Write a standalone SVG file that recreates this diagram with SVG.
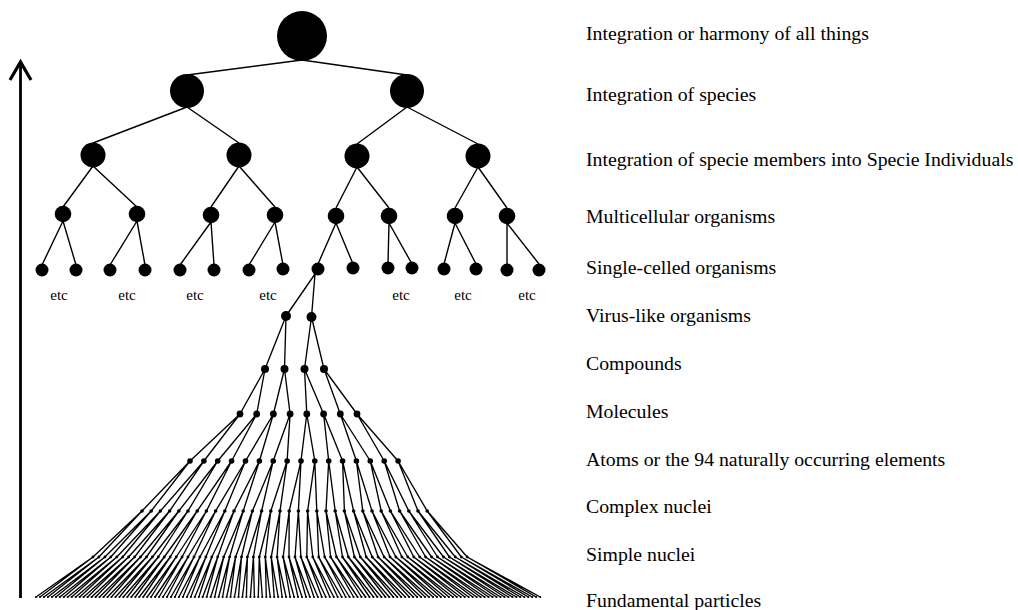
<svg xmlns="http://www.w3.org/2000/svg" width="1018" height="610" viewBox="0 0 1018 610">
<style>
.e{fill:none;stroke:#000;stroke-width:1.4;stroke-linejoin:round}
.f{fill:none;stroke:#000;stroke-width:1.35;stroke-linejoin:round}
.lbl{font-family:"Liberation Serif","Times New Roman",serif;font-size:19.8px;fill:#000}
.etc{font-family:"Liberation Serif","Times New Roman",serif;font-size:15px;fill:#000;text-anchor:middle}
circle{fill:#000}
</style>
<rect width="1018" height="610" fill="#fff"/>
<g id="axis" fill="none" stroke="#000" stroke-width="2.8">
<line x1="20.5" y1="598" x2="20.5" y2="64"/>
<polyline points="10,80 20.5,62 31,80" stroke-width="3.2" stroke-linejoin="miter"/>
</g>
<g id="connectors">
<path class="e" d="M187 75L302 60L407 75M93 143L187 107L239 143M357 144L407 107L478 144M63 207L93 166L137 207M211 207L239 166L275 207M336 208L357 167L389 208M455 208L478 167L507 208M42 265L63 221L76 265M110 265L137 221L145 265M180 265L211 222L214 265M249 265L275 222L283 265M318 264L336 223L353 264M388 264L389 223L412 264M444 264L455 223L476 264M507 264L507 223L539 264"/>
<path class="f" d="M286 316L315 274L311.5 317M265 369L286 316L284.5 369M304.5 369L311.5 317L324 369M240 414L265 369L256.7 414M273.4 414L284.5 369L290.1 414M306.8 414L304.5 369L323.6 414M340.3 414L324 369L357 414M190 461L240 414L203.9 461M217.7 461L256.7 414L231.6 461M245.5 461L273.4 414L259.4 461M273.2 461L290.1 414L287.1 461M301 461L306.8 414L314.8 461M328.7 461L323.6 414L342.6 461M356.4 461L340.3 414L370.3 461M384.2 461L357 414L398.1 461"/>
<path class="f" d="M142 511L190 461L151.2 511M160.4 511L203.9 461L169.6 511M178.8 511L217.7 461L188 511M197.2 511L231.6 461L206.4 511M215.6 511L245.5 461L224.8 511M234 511L259.4 461L243.2 511M252.4 511L273.2 461L261.6 511M270.8 511L287.1 461L280 511M289.2 511L301 461L298.4 511M307.6 511L314.8 461L316.8 511M326 511L328.7 461L335.2 511M344.4 511L342.6 461L353.6 511M362.8 511L356.4 461L372 511M381.2 511L370.3 461L390.4 511M399.6 511L384.2 461L408.8 511M418 511L398.1 461L427.2 511"/>
<path class="f" d="M93 557L142 511L98.9 557M104.9 557L151.2 511L110.8 557M116.8 557L160.4 511L122.7 557M128.6 557L169.6 511L134.6 557M140.5 557L178.8 511L146.5 557M152.4 557L188 511L158.3 557M164.3 557L197.2 511L170.2 557M176.2 557L206.4 511L182.1 557M188 557L215.6 511L194 557M199.9 557L224.8 511L205.9 557M211.8 557L234 511L217.7 557M223.7 557L243.2 511L229.6 557M235.6 557L252.4 511L241.5 557M247.4 557L261.6 511L253.4 557M259.3 557L270.8 511L265.3 557M271.2 557L280 511L277.1 557M283.1 557L289.2 511L289 557M295 557L298.4 511L300.9 557M306.8 557L307.6 511L312.8 557M318.7 557L316.8 511L324.7 557M330.6 557L326 511L336.5 557M342.5 557L335.2 511L348.4 557M354.4 557L344.4 511L360.3 557M366.2 557L353.6 511L372.2 557M378.1 557L362.8 511L384.1 557M390 557L372 511L395.9 557M401.9 557L381.2 511L407.8 557M413.8 557L390.4 511L419.7 557M425.6 557L399.6 511L431.6 557M437.5 557L408.8 511L443.5 557M449.4 557L418 511L455.3 557M461.3 557L427.2 511L467.2 557"/>
<path class="f" d="M36 597L93 557L40 597M43.9 597L98.9 557L47.9 597M51.9 597L104.9 557L55.9 597M59.8 597L110.8 557L63.8 597M67.8 597L116.8 557L71.7 597M75.7 597L122.7 557L79.7 597M83.6 597L128.6 557L87.6 597M91.6 597L134.6 557L95.6 597M99.5 597L140.5 557L103.5 597M107.5 597L146.5 557L111.4 597M115.4 597L152.4 557L119.4 597M123.3 597L158.3 557L127.3 597M131.3 597L164.3 557L135.3 597M139.2 597L170.2 557L143.2 597M147.2 597L176.2 557L151.1 597M155.1 597L182.1 557L159.1 597M163 597L188 557L167 597M171 597L194 557L174.9 597M178.9 597L199.9 557L182.9 597M186.9 597L205.9 557L190.8 597M194.8 597L211.8 557L198.8 597M202.7 597L217.7 557L206.7 597M210.7 597L223.7 557L214.7 597M218.6 597L229.6 557L222.6 597M226.6 597L235.6 557L230.5 597M234.5 597L241.5 557L238.5 597M242.4 597L247.4 557L246.4 597M250.4 597L253.4 557L254.4 597M258.3 597L259.3 557L262.3 597M266.3 597L265.3 557L270.2 597M274.2 597L271.2 557L278.2 597M282.1 597L277.1 557L286.1 597M290.1 597L283.1 557L294.1 597M298 597L289 557L302 597M306 597L295 557L309.9 597M313.9 597L300.9 557L317.9 597M321.8 597L306.8 557L325.8 597M329.8 597L312.8 557L333.8 597M337.7 597L318.7 557L341.7 597M345.7 597L324.7 557L349.6 597M353.6 597L330.6 557L357.6 597M361.5 597L336.5 557L365.5 597M369.5 597L342.5 557L373.5 597M377.4 597L348.4 557L381.4 597M385.4 597L354.4 557L389.3 597M393.3 597L360.3 557L397.3 597M401.2 597L366.2 557L405.2 597M409.2 597L372.2 557L413.2 597M417.1 597L378.1 557L421.1 597M425.1 597L384.1 557L429 597M433 597L390 557L437 597M440.9 597L395.9 557L444.9 597M448.9 597L401.9 557L452.9 597M456.8 597L407.8 557L460.8 597M464.8 597L413.8 557L468.7 597M472.7 597L419.7 557L476.7 597M480.6 597L425.6 557L484.6 597M488.6 597L431.6 557L492.6 597M496.5 597L437.5 557L500.5 597M504.5 597L443.5 557L508.4 597M512.4 597L449.4 557L516.4 597M520.3 597L455.3 557L524.3 597M528.3 597L461.3 557L532.3 597M536.2 597L467.2 557L540.2 597"/>
</g>
<g id="nodes-upper">
<g id="n-root"><circle cx="302" cy="36" r="25"/></g>
<g id="n2-0"><circle cx="187" cy="91" r="17"/></g>
<g id="n2-1"><circle cx="407" cy="91" r="17"/></g>
<g id="n3-0"><circle cx="93" cy="155" r="12.5"/></g>
<g id="n3-1"><circle cx="239" cy="155" r="12.5"/></g>
<g id="n3-2"><circle cx="357" cy="156" r="12.5"/></g>
<g id="n3-3"><circle cx="478" cy="156" r="12.5"/></g>
<g id="n4-0"><circle cx="63" cy="214" r="8.3"/></g>
<g id="n4-1"><circle cx="137" cy="214" r="8.3"/></g>
<g id="n4-2"><circle cx="211" cy="215" r="8.3"/></g>
<g id="n4-3"><circle cx="275" cy="215" r="8.3"/></g>
<g id="n4-4"><circle cx="336" cy="216" r="8.3"/></g>
<g id="n4-5"><circle cx="389" cy="216" r="8.3"/></g>
<g id="n4-6"><circle cx="455" cy="216" r="8.3"/></g>
<g id="n4-7"><circle cx="507" cy="216" r="8.3"/></g>
<g id="n5-0"><circle cx="42" cy="270" r="6.5"/></g>
<g id="n5-1"><circle cx="76" cy="270" r="6.5"/></g>
<g id="n5-2"><circle cx="110" cy="270" r="6.5"/></g>
<g id="n5-3"><circle cx="145" cy="270" r="6.5"/></g>
<g id="n5-4"><circle cx="180" cy="270" r="6.5"/></g>
<g id="n5-5"><circle cx="214" cy="270" r="6.5"/></g>
<g id="n5-6"><circle cx="249" cy="270" r="6.5"/></g>
<g id="n5-7"><circle cx="283" cy="269" r="6.5"/></g>
<g id="n5-8"><circle cx="318" cy="269" r="6.5"/></g>
<g id="n5-9"><circle cx="353" cy="268" r="6.5"/></g>
<g id="n5-10"><circle cx="388" cy="268" r="6.5"/></g>
<g id="n5-11"><circle cx="412" cy="268" r="6.5"/></g>
<g id="n5-12"><circle cx="444" cy="269" r="6.5"/></g>
<g id="n5-13"><circle cx="476" cy="269" r="6.5"/></g>
<g id="n5-14"><circle cx="507" cy="270" r="6.5"/></g>
<g id="n5-15"><circle cx="539" cy="270" r="6.5"/></g>
</g>
<g id="nodes-lower">
<g id="n6-0"><circle cx="286" cy="316" r="5"/></g>
<g id="n6-1"><circle cx="311.5" cy="317" r="5"/></g>
<g id="n7-0"><circle cx="265" cy="369" r="4"/></g>
<g id="n7-1"><circle cx="284.5" cy="369" r="4"/></g>
<g id="n7-2"><circle cx="304.5" cy="369" r="4"/></g>
<g id="n7-3"><circle cx="324" cy="369" r="4"/></g>
<g id="n8-0"><circle cx="240" cy="414" r="3.4"/></g>
<g id="n8-1"><circle cx="256.7" cy="414" r="3.4"/></g>
<g id="n8-2"><circle cx="273.4" cy="414" r="3.4"/></g>
<g id="n8-3"><circle cx="290.1" cy="414" r="3.4"/></g>
<g id="n8-4"><circle cx="306.8" cy="414" r="3.4"/></g>
<g id="n8-5"><circle cx="323.6" cy="414" r="3.4"/></g>
<g id="n8-6"><circle cx="340.3" cy="414" r="3.4"/></g>
<g id="n8-7"><circle cx="357" cy="414" r="3.4"/></g>
<g id="n9-0"><circle cx="190" cy="461" r="2.8"/></g>
<g id="n9-1"><circle cx="203.9" cy="461" r="2.8"/></g>
<g id="n9-2"><circle cx="217.7" cy="461" r="2.8"/></g>
<g id="n9-3"><circle cx="231.6" cy="461" r="2.8"/></g>
<g id="n9-4"><circle cx="245.5" cy="461" r="2.8"/></g>
<g id="n9-5"><circle cx="259.4" cy="461" r="2.8"/></g>
<g id="n9-6"><circle cx="273.2" cy="461" r="2.8"/></g>
<g id="n9-7"><circle cx="287.1" cy="461" r="2.8"/></g>
<g id="n9-8"><circle cx="301" cy="461" r="2.8"/></g>
<g id="n9-9"><circle cx="314.8" cy="461" r="2.8"/></g>
<g id="n9-10"><circle cx="328.7" cy="461" r="2.8"/></g>
<g id="n9-11"><circle cx="342.6" cy="461" r="2.8"/></g>
<g id="n9-12"><circle cx="356.4" cy="461" r="2.8"/></g>
<g id="n9-13"><circle cx="370.3" cy="461" r="2.8"/></g>
<g id="n9-14"><circle cx="384.2" cy="461" r="2.8"/></g>
<g id="n9-15"><circle cx="398.1" cy="461" r="2.8"/></g>
<g id="n10-0"><circle cx="142" cy="511" r="1.8"/></g>
<g id="n10-1"><circle cx="151.2" cy="511" r="1.8"/></g>
<g id="n10-2"><circle cx="160.4" cy="511" r="1.8"/></g>
<g id="n10-3"><circle cx="169.6" cy="511" r="1.8"/></g>
<g id="n10-4"><circle cx="178.8" cy="511" r="1.8"/></g>
<g id="n10-5"><circle cx="188" cy="511" r="1.8"/></g>
<g id="n10-6"><circle cx="197.2" cy="511" r="1.8"/></g>
<g id="n10-7"><circle cx="206.4" cy="511" r="1.8"/></g>
<g id="n10-8"><circle cx="215.6" cy="511" r="1.8"/></g>
<g id="n10-9"><circle cx="224.8" cy="511" r="1.8"/></g>
<g id="n10-10"><circle cx="234" cy="511" r="1.8"/></g>
<g id="n10-11"><circle cx="243.2" cy="511" r="1.8"/></g>
<g id="n10-12"><circle cx="252.4" cy="511" r="1.8"/></g>
<g id="n10-13"><circle cx="261.6" cy="511" r="1.8"/></g>
<g id="n10-14"><circle cx="270.8" cy="511" r="1.8"/></g>
<g id="n10-15"><circle cx="280" cy="511" r="1.8"/></g>
<g id="n10-16"><circle cx="289.2" cy="511" r="1.8"/></g>
<g id="n10-17"><circle cx="298.4" cy="511" r="1.8"/></g>
<g id="n10-18"><circle cx="307.6" cy="511" r="1.8"/></g>
<g id="n10-19"><circle cx="316.8" cy="511" r="1.8"/></g>
<g id="n10-20"><circle cx="326" cy="511" r="1.8"/></g>
<g id="n10-21"><circle cx="335.2" cy="511" r="1.8"/></g>
<g id="n10-22"><circle cx="344.4" cy="511" r="1.8"/></g>
<g id="n10-23"><circle cx="353.6" cy="511" r="1.8"/></g>
<g id="n10-24"><circle cx="362.8" cy="511" r="1.8"/></g>
<g id="n10-25"><circle cx="372" cy="511" r="1.8"/></g>
<g id="n10-26"><circle cx="381.2" cy="511" r="1.8"/></g>
<g id="n10-27"><circle cx="390.4" cy="511" r="1.8"/></g>
<g id="n10-28"><circle cx="399.6" cy="511" r="1.8"/></g>
<g id="n10-29"><circle cx="408.8" cy="511" r="1.8"/></g>
<g id="n10-30"><circle cx="418" cy="511" r="1.8"/></g>
<g id="n10-31"><circle cx="427.2" cy="511" r="1.8"/></g>
<g id="n11-0"><circle cx="93" cy="557" r="1.4"/></g>
<g id="n11-1"><circle cx="98.9" cy="557" r="1.4"/></g>
<g id="n11-2"><circle cx="104.9" cy="557" r="1.4"/></g>
<g id="n11-3"><circle cx="110.8" cy="557" r="1.4"/></g>
<g id="n11-4"><circle cx="116.8" cy="557" r="1.4"/></g>
<g id="n11-5"><circle cx="122.7" cy="557" r="1.4"/></g>
<g id="n11-6"><circle cx="128.6" cy="557" r="1.4"/></g>
<g id="n11-7"><circle cx="134.6" cy="557" r="1.4"/></g>
<g id="n11-8"><circle cx="140.5" cy="557" r="1.4"/></g>
<g id="n11-9"><circle cx="146.5" cy="557" r="1.4"/></g>
<g id="n11-10"><circle cx="152.4" cy="557" r="1.4"/></g>
<g id="n11-11"><circle cx="158.3" cy="557" r="1.4"/></g>
<g id="n11-12"><circle cx="164.3" cy="557" r="1.4"/></g>
<g id="n11-13"><circle cx="170.2" cy="557" r="1.4"/></g>
<g id="n11-14"><circle cx="176.2" cy="557" r="1.4"/></g>
<g id="n11-15"><circle cx="182.1" cy="557" r="1.4"/></g>
<g id="n11-16"><circle cx="188" cy="557" r="1.4"/></g>
<g id="n11-17"><circle cx="194" cy="557" r="1.4"/></g>
<g id="n11-18"><circle cx="199.9" cy="557" r="1.4"/></g>
<g id="n11-19"><circle cx="205.9" cy="557" r="1.4"/></g>
<g id="n11-20"><circle cx="211.8" cy="557" r="1.4"/></g>
<g id="n11-21"><circle cx="217.7" cy="557" r="1.4"/></g>
<g id="n11-22"><circle cx="223.7" cy="557" r="1.4"/></g>
<g id="n11-23"><circle cx="229.6" cy="557" r="1.4"/></g>
<g id="n11-24"><circle cx="235.6" cy="557" r="1.4"/></g>
<g id="n11-25"><circle cx="241.5" cy="557" r="1.4"/></g>
<g id="n11-26"><circle cx="247.4" cy="557" r="1.4"/></g>
<g id="n11-27"><circle cx="253.4" cy="557" r="1.4"/></g>
<g id="n11-28"><circle cx="259.3" cy="557" r="1.4"/></g>
<g id="n11-29"><circle cx="265.3" cy="557" r="1.4"/></g>
<g id="n11-30"><circle cx="271.2" cy="557" r="1.4"/></g>
<g id="n11-31"><circle cx="277.1" cy="557" r="1.4"/></g>
<g id="n11-32"><circle cx="283.1" cy="557" r="1.4"/></g>
<g id="n11-33"><circle cx="289" cy="557" r="1.4"/></g>
<g id="n11-34"><circle cx="295" cy="557" r="1.4"/></g>
<g id="n11-35"><circle cx="300.9" cy="557" r="1.4"/></g>
<g id="n11-36"><circle cx="306.8" cy="557" r="1.4"/></g>
<g id="n11-37"><circle cx="312.8" cy="557" r="1.4"/></g>
<g id="n11-38"><circle cx="318.7" cy="557" r="1.4"/></g>
<g id="n11-39"><circle cx="324.7" cy="557" r="1.4"/></g>
<g id="n11-40"><circle cx="330.6" cy="557" r="1.4"/></g>
<g id="n11-41"><circle cx="336.5" cy="557" r="1.4"/></g>
<g id="n11-42"><circle cx="342.5" cy="557" r="1.4"/></g>
<g id="n11-43"><circle cx="348.4" cy="557" r="1.4"/></g>
<g id="n11-44"><circle cx="354.4" cy="557" r="1.4"/></g>
<g id="n11-45"><circle cx="360.3" cy="557" r="1.4"/></g>
<g id="n11-46"><circle cx="366.2" cy="557" r="1.4"/></g>
<g id="n11-47"><circle cx="372.2" cy="557" r="1.4"/></g>
<g id="n11-48"><circle cx="378.1" cy="557" r="1.4"/></g>
<g id="n11-49"><circle cx="384.1" cy="557" r="1.4"/></g>
<g id="n11-50"><circle cx="390" cy="557" r="1.4"/></g>
<g id="n11-51"><circle cx="395.9" cy="557" r="1.4"/></g>
<g id="n11-52"><circle cx="401.9" cy="557" r="1.4"/></g>
<g id="n11-53"><circle cx="407.8" cy="557" r="1.4"/></g>
<g id="n11-54"><circle cx="413.8" cy="557" r="1.4"/></g>
<g id="n11-55"><circle cx="419.7" cy="557" r="1.4"/></g>
<g id="n11-56"><circle cx="425.6" cy="557" r="1.4"/></g>
<g id="n11-57"><circle cx="431.6" cy="557" r="1.4"/></g>
<g id="n11-58"><circle cx="437.5" cy="557" r="1.4"/></g>
<g id="n11-59"><circle cx="443.5" cy="557" r="1.4"/></g>
<g id="n11-60"><circle cx="449.4" cy="557" r="1.4"/></g>
<g id="n11-61"><circle cx="455.3" cy="557" r="1.4"/></g>
<g id="n11-62"><circle cx="461.3" cy="557" r="1.4"/></g>
<g id="n11-63"><circle cx="467.2" cy="557" r="1.4"/></g>
<g id="n12-0"><circle cx="36" cy="597" r="1.1"/></g>
<g id="n12-1"><circle cx="40" cy="597" r="1.1"/></g>
<g id="n12-2"><circle cx="43.9" cy="597" r="1.1"/></g>
<g id="n12-3"><circle cx="47.9" cy="597" r="1.1"/></g>
<g id="n12-4"><circle cx="51.9" cy="597" r="1.1"/></g>
<g id="n12-5"><circle cx="55.9" cy="597" r="1.1"/></g>
<g id="n12-6"><circle cx="59.8" cy="597" r="1.1"/></g>
<g id="n12-7"><circle cx="63.8" cy="597" r="1.1"/></g>
<g id="n12-8"><circle cx="67.8" cy="597" r="1.1"/></g>
<g id="n12-9"><circle cx="71.7" cy="597" r="1.1"/></g>
<g id="n12-10"><circle cx="75.7" cy="597" r="1.1"/></g>
<g id="n12-11"><circle cx="79.7" cy="597" r="1.1"/></g>
<g id="n12-12"><circle cx="83.6" cy="597" r="1.1"/></g>
<g id="n12-13"><circle cx="87.6" cy="597" r="1.1"/></g>
<g id="n12-14"><circle cx="91.6" cy="597" r="1.1"/></g>
<g id="n12-15"><circle cx="95.6" cy="597" r="1.1"/></g>
<g id="n12-16"><circle cx="99.5" cy="597" r="1.1"/></g>
<g id="n12-17"><circle cx="103.5" cy="597" r="1.1"/></g>
<g id="n12-18"><circle cx="107.5" cy="597" r="1.1"/></g>
<g id="n12-19"><circle cx="111.4" cy="597" r="1.1"/></g>
<g id="n12-20"><circle cx="115.4" cy="597" r="1.1"/></g>
<g id="n12-21"><circle cx="119.4" cy="597" r="1.1"/></g>
<g id="n12-22"><circle cx="123.3" cy="597" r="1.1"/></g>
<g id="n12-23"><circle cx="127.3" cy="597" r="1.1"/></g>
<g id="n12-24"><circle cx="131.3" cy="597" r="1.1"/></g>
<g id="n12-25"><circle cx="135.3" cy="597" r="1.1"/></g>
<g id="n12-26"><circle cx="139.2" cy="597" r="1.1"/></g>
<g id="n12-27"><circle cx="143.2" cy="597" r="1.1"/></g>
<g id="n12-28"><circle cx="147.2" cy="597" r="1.1"/></g>
<g id="n12-29"><circle cx="151.1" cy="597" r="1.1"/></g>
<g id="n12-30"><circle cx="155.1" cy="597" r="1.1"/></g>
<g id="n12-31"><circle cx="159.1" cy="597" r="1.1"/></g>
<g id="n12-32"><circle cx="163" cy="597" r="1.1"/></g>
<g id="n12-33"><circle cx="167" cy="597" r="1.1"/></g>
<g id="n12-34"><circle cx="171" cy="597" r="1.1"/></g>
<g id="n12-35"><circle cx="174.9" cy="597" r="1.1"/></g>
<g id="n12-36"><circle cx="178.9" cy="597" r="1.1"/></g>
<g id="n12-37"><circle cx="182.9" cy="597" r="1.1"/></g>
<g id="n12-38"><circle cx="186.9" cy="597" r="1.1"/></g>
<g id="n12-39"><circle cx="190.8" cy="597" r="1.1"/></g>
<g id="n12-40"><circle cx="194.8" cy="597" r="1.1"/></g>
<g id="n12-41"><circle cx="198.8" cy="597" r="1.1"/></g>
<g id="n12-42"><circle cx="202.7" cy="597" r="1.1"/></g>
<g id="n12-43"><circle cx="206.7" cy="597" r="1.1"/></g>
<g id="n12-44"><circle cx="210.7" cy="597" r="1.1"/></g>
<g id="n12-45"><circle cx="214.7" cy="597" r="1.1"/></g>
<g id="n12-46"><circle cx="218.6" cy="597" r="1.1"/></g>
<g id="n12-47"><circle cx="222.6" cy="597" r="1.1"/></g>
<g id="n12-48"><circle cx="226.6" cy="597" r="1.1"/></g>
<g id="n12-49"><circle cx="230.5" cy="597" r="1.1"/></g>
<g id="n12-50"><circle cx="234.5" cy="597" r="1.1"/></g>
<g id="n12-51"><circle cx="238.5" cy="597" r="1.1"/></g>
<g id="n12-52"><circle cx="242.4" cy="597" r="1.1"/></g>
<g id="n12-53"><circle cx="246.4" cy="597" r="1.1"/></g>
<g id="n12-54"><circle cx="250.4" cy="597" r="1.1"/></g>
<g id="n12-55"><circle cx="254.4" cy="597" r="1.1"/></g>
<g id="n12-56"><circle cx="258.3" cy="597" r="1.1"/></g>
<g id="n12-57"><circle cx="262.3" cy="597" r="1.1"/></g>
<g id="n12-58"><circle cx="266.3" cy="597" r="1.1"/></g>
<g id="n12-59"><circle cx="270.2" cy="597" r="1.1"/></g>
<g id="n12-60"><circle cx="274.2" cy="597" r="1.1"/></g>
<g id="n12-61"><circle cx="278.2" cy="597" r="1.1"/></g>
<g id="n12-62"><circle cx="282.1" cy="597" r="1.1"/></g>
<g id="n12-63"><circle cx="286.1" cy="597" r="1.1"/></g>
<g id="n12-64"><circle cx="290.1" cy="597" r="1.1"/></g>
<g id="n12-65"><circle cx="294.1" cy="597" r="1.1"/></g>
<g id="n12-66"><circle cx="298" cy="597" r="1.1"/></g>
<g id="n12-67"><circle cx="302" cy="597" r="1.1"/></g>
<g id="n12-68"><circle cx="306" cy="597" r="1.1"/></g>
<g id="n12-69"><circle cx="309.9" cy="597" r="1.1"/></g>
<g id="n12-70"><circle cx="313.9" cy="597" r="1.1"/></g>
<g id="n12-71"><circle cx="317.9" cy="597" r="1.1"/></g>
<g id="n12-72"><circle cx="321.8" cy="597" r="1.1"/></g>
<g id="n12-73"><circle cx="325.8" cy="597" r="1.1"/></g>
<g id="n12-74"><circle cx="329.8" cy="597" r="1.1"/></g>
<g id="n12-75"><circle cx="333.8" cy="597" r="1.1"/></g>
<g id="n12-76"><circle cx="337.7" cy="597" r="1.1"/></g>
<g id="n12-77"><circle cx="341.7" cy="597" r="1.1"/></g>
<g id="n12-78"><circle cx="345.7" cy="597" r="1.1"/></g>
<g id="n12-79"><circle cx="349.6" cy="597" r="1.1"/></g>
<g id="n12-80"><circle cx="353.6" cy="597" r="1.1"/></g>
<g id="n12-81"><circle cx="357.6" cy="597" r="1.1"/></g>
<g id="n12-82"><circle cx="361.5" cy="597" r="1.1"/></g>
<g id="n12-83"><circle cx="365.5" cy="597" r="1.1"/></g>
<g id="n12-84"><circle cx="369.5" cy="597" r="1.1"/></g>
<g id="n12-85"><circle cx="373.5" cy="597" r="1.1"/></g>
<g id="n12-86"><circle cx="377.4" cy="597" r="1.1"/></g>
<g id="n12-87"><circle cx="381.4" cy="597" r="1.1"/></g>
<g id="n12-88"><circle cx="385.4" cy="597" r="1.1"/></g>
<g id="n12-89"><circle cx="389.3" cy="597" r="1.1"/></g>
<g id="n12-90"><circle cx="393.3" cy="597" r="1.1"/></g>
<g id="n12-91"><circle cx="397.3" cy="597" r="1.1"/></g>
<g id="n12-92"><circle cx="401.2" cy="597" r="1.1"/></g>
<g id="n12-93"><circle cx="405.2" cy="597" r="1.1"/></g>
<g id="n12-94"><circle cx="409.2" cy="597" r="1.1"/></g>
<g id="n12-95"><circle cx="413.2" cy="597" r="1.1"/></g>
<g id="n12-96"><circle cx="417.1" cy="597" r="1.1"/></g>
<g id="n12-97"><circle cx="421.1" cy="597" r="1.1"/></g>
<g id="n12-98"><circle cx="425.1" cy="597" r="1.1"/></g>
<g id="n12-99"><circle cx="429" cy="597" r="1.1"/></g>
<g id="n12-100"><circle cx="433" cy="597" r="1.1"/></g>
<g id="n12-101"><circle cx="437" cy="597" r="1.1"/></g>
<g id="n12-102"><circle cx="440.9" cy="597" r="1.1"/></g>
<g id="n12-103"><circle cx="444.9" cy="597" r="1.1"/></g>
<g id="n12-104"><circle cx="448.9" cy="597" r="1.1"/></g>
<g id="n12-105"><circle cx="452.9" cy="597" r="1.1"/></g>
<g id="n12-106"><circle cx="456.8" cy="597" r="1.1"/></g>
<g id="n12-107"><circle cx="460.8" cy="597" r="1.1"/></g>
<g id="n12-108"><circle cx="464.8" cy="597" r="1.1"/></g>
<g id="n12-109"><circle cx="468.7" cy="597" r="1.1"/></g>
<g id="n12-110"><circle cx="472.7" cy="597" r="1.1"/></g>
<g id="n12-111"><circle cx="476.7" cy="597" r="1.1"/></g>
<g id="n12-112"><circle cx="480.6" cy="597" r="1.1"/></g>
<g id="n12-113"><circle cx="484.6" cy="597" r="1.1"/></g>
<g id="n12-114"><circle cx="488.6" cy="597" r="1.1"/></g>
<g id="n12-115"><circle cx="492.6" cy="597" r="1.1"/></g>
<g id="n12-116"><circle cx="496.5" cy="597" r="1.1"/></g>
<g id="n12-117"><circle cx="500.5" cy="597" r="1.1"/></g>
<g id="n12-118"><circle cx="504.5" cy="597" r="1.1"/></g>
<g id="n12-119"><circle cx="508.4" cy="597" r="1.1"/></g>
<g id="n12-120"><circle cx="512.4" cy="597" r="1.1"/></g>
<g id="n12-121"><circle cx="516.4" cy="597" r="1.1"/></g>
<g id="n12-122"><circle cx="520.3" cy="597" r="1.1"/></g>
<g id="n12-123"><circle cx="524.3" cy="597" r="1.1"/></g>
<g id="n12-124"><circle cx="528.3" cy="597" r="1.1"/></g>
<g id="n12-125"><circle cx="532.3" cy="597" r="1.1"/></g>
<g id="n12-126"><circle cx="536.2" cy="597" r="1.1"/></g>
<g id="n12-127"><circle cx="540.2" cy="597" r="1.1"/></g>
</g>
<g id="etc-labels" class="etc">
<text x="59" y="300">etc</text>
<text x="127" y="300">etc</text>
<text x="195" y="300">etc</text>
<text x="268" y="300">etc</text>
<text x="401" y="300">etc</text>
<text x="463" y="300">etc</text>
<text x="527" y="300">etc</text>
</g>
<g id="level-labels" class="lbl">
<text x="586" y="40">Integration or harmony of all things</text>
<text x="586" y="101">Integration of species</text>
<text x="586" y="166">Integration of specie members into Specie Individuals</text>
<text x="586" y="223">Multicellular organisms</text>
<text x="586" y="274">Single-celled organisms</text>
<text x="586" y="322">Virus-like organisms</text>
<text x="586" y="370">Compounds</text>
<text x="586" y="418">Molecules</text>
<text x="586" y="466">Atoms or the 94 naturally occurring elements</text>
<text x="586" y="513">Complex nuclei</text>
<text x="586" y="561">Simple nuclei</text>
<text x="586" y="607">Fundamental particles</text>
</g>
</svg>
